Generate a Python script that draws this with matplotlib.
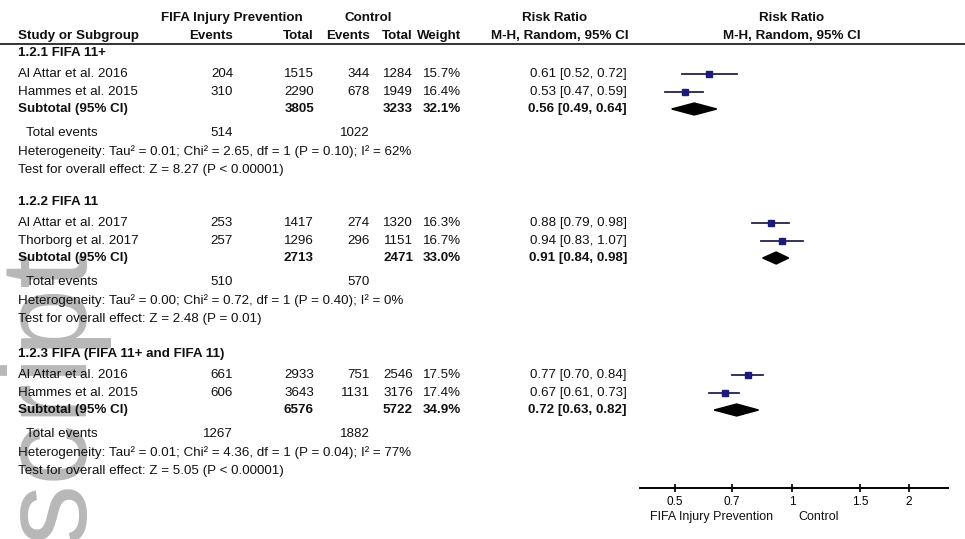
import numpy as np
import matplotlib
matplotlib.use("Agg")
import matplotlib.pyplot as plt
from matplotlib.patches import Polygon

plt.rcParams['font.family'] = ['Liberation Sans', 'DejaVu Sans']

# --- data: three subgroups, two studies each ---
groups = ['1.2.1 FIFA 11+', '1.2.2 FIFA 11', '1.2.3 FIFA (FIFA 11+ and FIFA 11)']
studies = [
    ['Al Attar et al. 2016', 'Hammes et al. 2015'],
    ['Al Attar et al. 2017', 'Thorborg et al. 2017'],
    ['Al Attar et al. 2016', 'Hammes et al. 2015'],
]
exp_events = [[204, 310], [253, 257], [661, 606]]
exp_total = [[1515, 2290], [1417, 1296], [2933, 3643]]
ctl_events = [[344, 678], [274, 296], [751, 1131]]
ctl_total = [[1284, 1949], [1320, 1151], [2546, 3176]]
weights = [[15.7, 16.4], [16.3, 16.7], [17.5, 17.4]]
rr = [[0.61, 0.53], [0.88, 0.94], [0.77, 0.67]]
rr_lo = [[0.52, 0.47], [0.79, 0.83], [0.70, 0.61]]
rr_hi = [[0.72, 0.59], [0.98, 1.07], [0.84, 0.73]]

sub_exp_total = [3805, 2713, 6576]
sub_ctl_total = [3233, 2471, 5722]
sub_weight = [32.1, 33.0, 34.9]
sub_rr = [0.56, 0.91, 0.72]
sub_lo = [0.49, 0.84, 0.63]
sub_hi = [0.64, 0.98, 0.82]
sub_exp_events = [514, 510, 1267]
sub_ctl_events = [1022, 570, 1882]

heterogeneity = [
    'Heterogeneity: Tau\u00b2 = 0.01; Chi\u00b2 = 2.65, df = 1 (P = 0.10); I\u00b2 = 62%',
    'Heterogeneity: Tau\u00b2 = 0.00; Chi\u00b2 = 0.72, df = 1 (P = 0.40); I\u00b2 = 0%',
    'Heterogeneity: Tau\u00b2 = 0.01; Chi\u00b2 = 4.36, df = 1 (P = 0.04); I\u00b2 = 77%',
]
overall = [
    'Test for overall effect: Z = 8.27 (P < 0.00001)',
    'Test for overall effect: Z = 2.48 (P = 0.01)',
    'Test for overall effect: Z = 5.05 (P < 0.00001)',
]

tick_vals = [0.5, 0.7, 1, 1.5, 2]
tick_labels = ['0.5', '0.7', '1', '1.5', '2']

# row positions (pixels from top) for each block
group_top = [53, 202, 354]
study_offsets = [21, 39]
sub_offset = 56
events_offset = 80
het_offset = 99
test_offset = 117

W, H = 965, 539
fig = plt.figure(figsize=(W / 100, H / 100), dpi=100)
fig.patch.set_facecolor('white')

# background axes in pixel units for all table text
bg = fig.add_axes([0, 0, 1, 1])
bg.set_xlim(0, W)
bg.set_ylim(H, 0)
bg.axis('off')

# manuscript watermark on the left margin
bg.text(84, 250, 'script', rotation=90, rotation_mode='anchor',
        ha='right', va='baseline', fontsize=88, color='#b8b8b8', zorder=0,
        clip_on=True)

fs = 9.6
txt = dict(fontsize=fs, color='#111111', va='center', zorder=3)

# column anchors
x_name = 18
x_ee, x_et, x_ce, x_ct, x_w, x_rr = 233, 314, 370, 413, 461, 627

# header
bg.text(232, 18, 'FIFA Injury Prevention', ha='center', fontweight='bold', **txt)
bg.text(368, 18, 'Control', ha='center', fontweight='bold', **txt)
bg.text(555, 18, 'Risk Ratio', ha='center', fontweight='bold', **txt)
bg.text(792, 18, 'Risk Ratio', ha='center', fontweight='bold', **txt)
bg.text(x_name, 36, 'Study or Subgroup', ha='left', fontweight='bold', **txt)
bg.text(x_ee, 36, 'Events', ha='right', fontweight='bold', **txt)
bg.text(x_et, 36, 'Total', ha='right', fontweight='bold', **txt)
bg.text(x_ce, 36, 'Events', ha='right', fontweight='bold', **txt)
bg.text(x_ct, 36, 'Total', ha='right', fontweight='bold', **txt)
bg.text(x_w, 36, 'Weight', ha='right', fontweight='bold', **txt)
bg.text(560, 36, 'M-H, Random, 95% CI', ha='center', fontweight='bold', **txt)
bg.text(792, 36, 'M-H, Random, 95% CI', ha='center', fontweight='bold', **txt)
bg.plot([0, W], [43.5, 43.5], color='#333333', lw=1.4, zorder=3)

# forest plot axes: x is log risk ratio, y in the same pixel rows
ax_y0, ax_y1 = 44, 488
ax = fig.add_axes([640 / W, (H - ax_y1) / H, (948 - 640) / W, (ax_y1 - ax_y0) / H])
ax.set_xscale('log')
ax.set_xlim(0.406, 2.52)
ax.set_ylim(ax_y1, ax_y0)
ax.patch.set_alpha(0)
for s in ['top', 'left', 'right']:
    ax.spines[s].set_visible(False)
ax.spines['bottom'].set_linewidth(1.4)
ax.set_yticks([])
ax.set_xticks(tick_vals)
ax.set_xticklabels(tick_labels, fontsize=8.5)
ax.minorticks_off()
ax.tick_params(axis='x', direction='inout', length=6, width=1.2, pad=3)

for g in range(3):
    top = group_top[g]
    bg.text(x_name, top, groups[g], ha='left', fontweight='bold', **txt)
    for i in range(2):
        y = top + study_offsets[i]
        bg.text(x_name, y, studies[g][i], ha='left', **txt)
        bg.text(x_ee, y, str(exp_events[g][i]), ha='right', **txt)
        bg.text(x_et, y, str(exp_total[g][i]), ha='right', **txt)
        bg.text(x_ce, y, str(ctl_events[g][i]), ha='right', **txt)
        bg.text(x_ct, y, str(ctl_total[g][i]), ha='right', **txt)
        bg.text(x_w, y, f'{weights[g][i]:.1f}%', ha='right', **txt)
        bg.text(x_rr, y, f'{rr[g][i]:.2f} [{rr_lo[g][i]:.2f}, {rr_hi[g][i]:.2f}]',
                ha='right', **txt)
        ax.plot([rr_lo[g][i], rr_hi[g][i]], [y, y], color='#22224e', lw=1.3, zorder=3)
        ax.plot(rr[g][i], y, marker='s', color='#1c1c78',
                markersize=1.05 * np.sqrt(weights[g][i]), zorder=4)

    ys = top + sub_offset
    bg.text(x_name, ys, 'Subtotal (95% CI)', ha='left', fontweight='bold', **txt)
    bg.text(x_et, ys, str(sub_exp_total[g]), ha='right', fontweight='bold', **txt)
    bg.text(x_ct, ys, str(sub_ctl_total[g]), ha='right', fontweight='bold', **txt)
    bg.text(x_w, ys, f'{sub_weight[g]:.1f}%', ha='right', fontweight='bold', **txt)
    bg.text(x_rr, ys, f'{sub_rr[g]:.2f} [{sub_lo[g]:.2f}, {sub_hi[g]:.2f}]',
            ha='right', fontweight='bold', **txt)
    dh = 6
    diamond = Polygon([(sub_lo[g], ys), (sub_rr[g], ys - dh), (sub_hi[g], ys),
                       (sub_rr[g], ys + dh)], closed=True, color='black', zorder=4)
    ax.add_patch(diamond)

    ye = top + events_offset
    bg.text(x_name + 8, ye, 'Total events', ha='left', **txt)
    bg.text(x_ee, ye, str(sub_exp_events[g]), ha='right', **txt)
    bg.text(x_ce, ye, str(sub_ctl_events[g]), ha='right', **txt)
    bg.text(x_name, top + het_offset, heterogeneity[g], ha='left', **txt)
    bg.text(x_name, top + test_offset, overall[g], ha='left', **txt)

# direction labels under the axis
bg.text(773, 517, 'FIFA Injury Prevention', ha='right', fontsize=9, color='#111111', va='center')
bg.text(798, 517, 'Control', ha='left', fontsize=9, color='#111111', va='center')

fig.savefig('out.png', dpi=100, facecolor='white')
